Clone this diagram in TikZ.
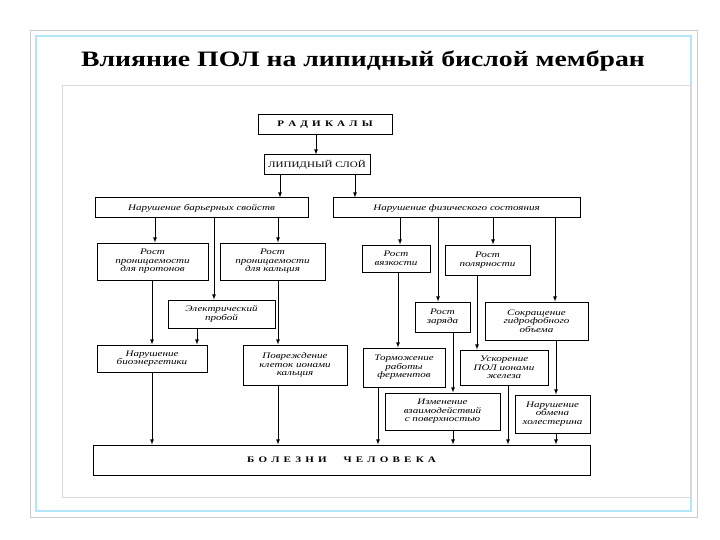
\documentclass[tikz,border=0pt]{standalone}
\usepackage{fontspec}
\setmainfont{Liberation Serif}
\newfontfamily\widefont[FakeStretch=1.3]{Liberation Serif}
\begin{document}
\begin{tikzpicture}[x=1pt,y=-1pt,
 bx/.style={draw,line width=1pt,align=center,inner sep=1pt,font=\widefont\itshape\fontsize{8.5}{8.5}\selectfont},
 ar/.style={-latex,line width=0.8pt}]
\useasboundingbox (0,0) rectangle (720,540);
\fill[white] (0,0) rectangle (720,540);
\draw[cyan!30,line width=1.2pt] (36,36) rectangle (691,511);
\draw[gray!40,line width=0.6pt] (30,30) rectangle (697,517);
\node[font=\bfseries\fontsize{22}{22}\selectfont,xscale=1.26] (title) at (363,61) {Влияние ПОЛ на липидный бислой мембран};
\draw[gray!30] (62,85) rectangle (690,497);
\newcommand{\bxn}[6]{\node[bx,minimum width=#4-#2,minimum height=#5-#3] (#1) at ({(#2+#4)/2},{(#3+#5)/2}) {#6};}
\bxn{rad}{258}{115}{392}{135}{\upshape\bfseries Р\ \,А\ \,Д\ \,И\ \,К\ \,А\ \,Л\ \,Ы}
\bxn{lip}{264}{155}{370}{175}{\upshape ЛИПИДНЫЙ СЛОЙ}
\bxn{bar}{95}{198}{308}{218}{Нарушение барьерных свойств}
\bxn{fiz}{333}{198}{580}{218}{Нарушение физического состояния}
\bxn{pro}{97}{243}{208}{280}{Рост\\проницаемости\\для протонов}
\bxn{kal}{220}{243}{325}{280}{Рост\\проницаемости\\для кальция}
\bxn{vyz}{362}{245}{430}{272}{Рост\\вязкости}
\bxn{pol}{445}{245}{530}{275}{Рост\\полярности}
\bxn{ele}{168}{300}{275}{328}{Электрический\\пробой}
\bxn{zar}{415}{302}{470}{332}{Рост\\заряда}
\bxn{sok}{485}{302}{588}{340}{Сокращение\\гидрофобного\\объема}
\bxn{bio}{97}{345}{207}{372}{Нарушение\\биоэнергетики}
\bxn{pov}{243}{345}{347}{385}{Повреждение\\клеток ионами\\кальция}
\bxn{tor}{363}{348}{445}{387}{Торможение\\работы\\ферментов}
\bxn{usk}{460}{350}{548}{385}{Ускорение\\ПОЛ ионами\\железа}
\bxn{izm}{385}{393}{500}{430}{Изменение\\взаимодействий\\с поверхностью}
\bxn{obm}{515}{395}{590}{433}{Нарушение\\обмена\\холестерина}
\bxn{bol}{93}{445}{590}{475}{\upshape\bfseries Б\ \,О\ \,Л\ \,Е\ \,З\ \,Н\ \,И\qquad Ч\ \,Е\ \,Л\ \,О\ \,В\ \,Е\ \,К\ \,А}
\newcommand{\vx}[3]{\draw[ar] (#2.south -| #1,0) -- (#3.north -| #1,0);}
\vx{316}{rad}{lip}
\vx{280}{lip}{bar}
\vx{355}{lip}{fiz}
\vx{155}{bar}{pro}
\vx{278}{bar}{kal}
\vx{214}{bar}{ele}
\vx{152}{pro}{bio}
\vx{278}{kal}{pov}
\vx{197}{ele}{bio}
\vx{152}{bio}{bol}
\vx{278}{pov}{bol}
\vx{400}{fiz}{vyz}
\vx{438}{fiz}{zar}
\vx{493}{fiz}{pol}
\vx{555}{fiz}{sok}
\vx{398}{vyz}{tor}
\vx{477}{pol}{usk}
\vx{453}{zar}{izm}
\vx{556}{sok}{obm}
\vx{378}{tor}{bol}
\vx{453}{izm}{bol}
\vx{508}{usk}{bol}
\vx{556}{obm}{bol}
\end{tikzpicture}
\end{document}
